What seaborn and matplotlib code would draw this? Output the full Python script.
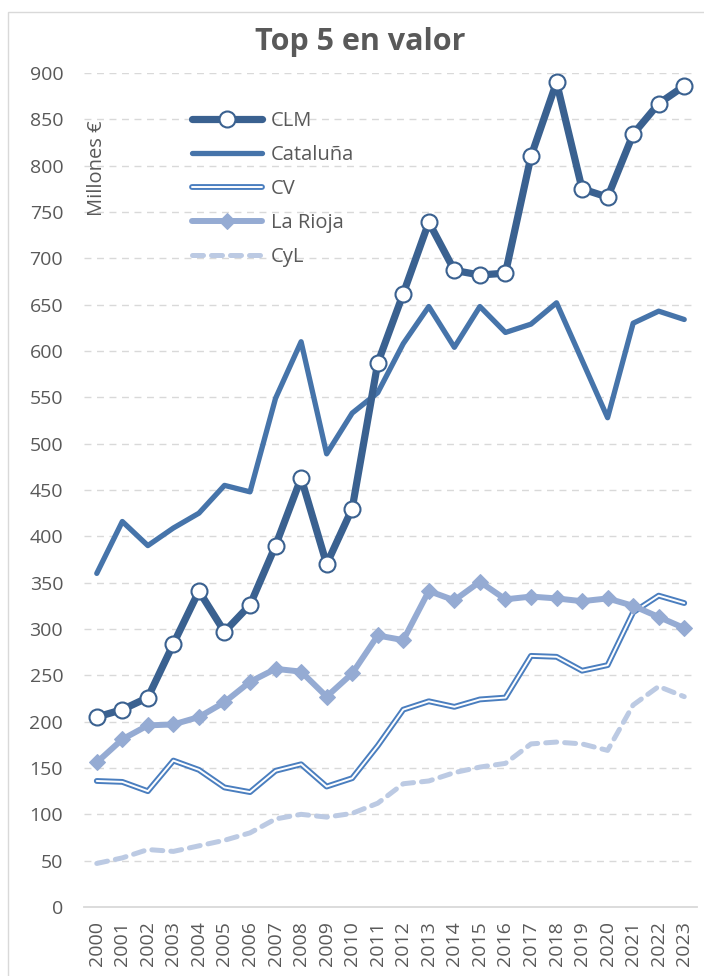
import matplotlib
matplotlib.use("Agg")
import matplotlib.pyplot as plt
import matplotlib.patheffects as pe
from matplotlib.patches import Rectangle
import seaborn as sns
import pandas as pd

years = list(range(2000, 2024))
clm = [205, 213, 226, 284, 341, 297, 326, 390, 463, 370, 430, 587, 662, 739,
       687, 682, 684, 810, 890, 775, 766, 834, 867, 886]
cataluna = [360, 416, 390, 409, 425, 455, 448, 549, 610, 489, 533, 555, 608, 648,
            604, 648, 620, 629, 652, 590, 528, 630, 643, 634]
cv = [136, 135, 125, 158, 148, 129, 124, 147, 154, 130, 139, 174, 213, 222,
      216, 224, 226, 271, 270, 255, 261, 318, 336, 328]
rioja = [156, 181, 196, 197, 205, 221, 243, 257, 254, 227, 252, 293, 288, 341,
         331, 351, 332, 335, 333, 330, 333, 325, 313, 301]
cyl = [47, 53, 62, 60, 66, 72, 80, 95, 100, 97, 101, 112, 133, 136,
       145, 151, 155, 176, 178, 176, 169, 218, 238, 227]
yticks = list(range(0, 901, 50))

series = {"CLM": clm, "Cataluña": cataluna, "CV": cv, "La Rioja": rioja, "CyL": cyl}
idx = list(range(len(years)))

sns.set_theme(style="white")
plt.rcParams['font.family'] = ['Open Sans', 'DejaVu Sans']

fig = plt.figure(figsize=(7.04, 9.76), dpi=100)
ax = fig.add_axes([84/704, 69/976, (697-84)/704, (907-73)/976])

txt = "#595959"
c_clm = "#3a6190"
c_cat = "#4674aa"
c_cv = "#4a7ebf"
c_rio = "#95abd3"
c_cyl = "#bccae3"

def df_for(name):
    return pd.DataFrame({"x": idx, "v": series[name]})

# CyL
sns.lineplot(data=df_for("CyL"), x="x", y="v", ax=ax, color=c_cyl, lw=3.6,
             label="CyL", zorder=2)
ax.lines[-1].set_dashes([2.2, 1.6])
ax.lines[-1].set_dash_capstyle("round")
# CV double line
sns.lineplot(data=df_for("CV"), x="x", y="v", ax=ax, color="white", lw=1.4,
             label="CV", zorder=3)
ax.lines[-1].set_path_effects([pe.Stroke(linewidth=4.2, foreground=c_cv), pe.Normal()])
# La Rioja
sns.lineplot(data=df_for("La Rioja"), x="x", y="v", ax=ax, color=c_rio, lw=4.3,
             marker="D", markersize=8.5, markeredgecolor=c_rio, markerfacecolor=c_rio,
             label="La Rioja", zorder=4)
# Cataluña
sns.lineplot(data=df_for("Cataluña"), x="x", y="v", ax=ax, color=c_cat, lw=3.8,
             label="Cataluña", zorder=5)
# CLM
sns.lineplot(data=df_for("CLM"), x="x", y="v", ax=ax, color=c_clm, lw=5.2,
             marker="o", markersize=11.5, markerfacecolor="white",
             markeredgecolor=c_clm, markeredgewidth=1.5, label="CLM", zorder=6)

for ln in ax.lines:
    ln.set_clip_on(False)
    ln.set_solid_capstyle("round")

ax.set_xlim(-0.5, len(years) - 0.5)
ax.set_ylim(0, 900)
ax.set_yticks(yticks)
ax.set_yticklabels([str(t) for t in yticks], fontsize=14, color=txt)
ax.set_xticks(idx)
ax.set_xticklabels([str(y) for y in years], rotation=90, fontsize=14, color=txt)
ax.tick_params(axis="y", length=0, pad=15)
ax.tick_params(axis="x", length=0, pad=10)
ax.set_xlabel("")
ax.set_ylabel("")

for t in yticks[1:]:
    ax.axhline(t, color="#d9d9d9", lw=1.0, dashes=(5, 4), zorder=0)
for s in ["top", "right", "left"]:
    ax.spines[s].set_visible(False)
ax.spines["bottom"].set_color("#d9d9d9")
ax.spines["bottom"].set_linewidth(1.3)

handles, labels = ax.get_legend_handles_labels()
order = ["CLM", "Cataluña", "CV", "La Rioja", "CyL"]
hmap = dict(zip(labels, handles))
leg = ax.legend([hmap[o] for o in order], order, loc="upper left",
                bbox_to_anchor=(0.163, 0.9645), frameon=False, fontsize=14.5,
                handlelength=3.5, handletextpad=0.4, labelspacing=0.7,
                borderaxespad=0)
for t in leg.get_texts():
    t.set_color(txt)

fig.text(97/704, 1 - 168/976, "Millones €", rotation=90, ha="center", va="center",
         fontsize=14.5, color=txt)
fig.text(360/704, 1 - 42/976, "Top 5 en valor", ha="center", va="center",
         fontsize=22, fontweight="bold", color=txt)

fig.patches.append(Rectangle((8/704, -0.01), 1.0, 1 - 12/976 + 0.01,
                             transform=fig.transFigure, fill=False,
                             edgecolor="#d9d9d9", lw=1.0))

fig.savefig("out.png", dpi=100)
